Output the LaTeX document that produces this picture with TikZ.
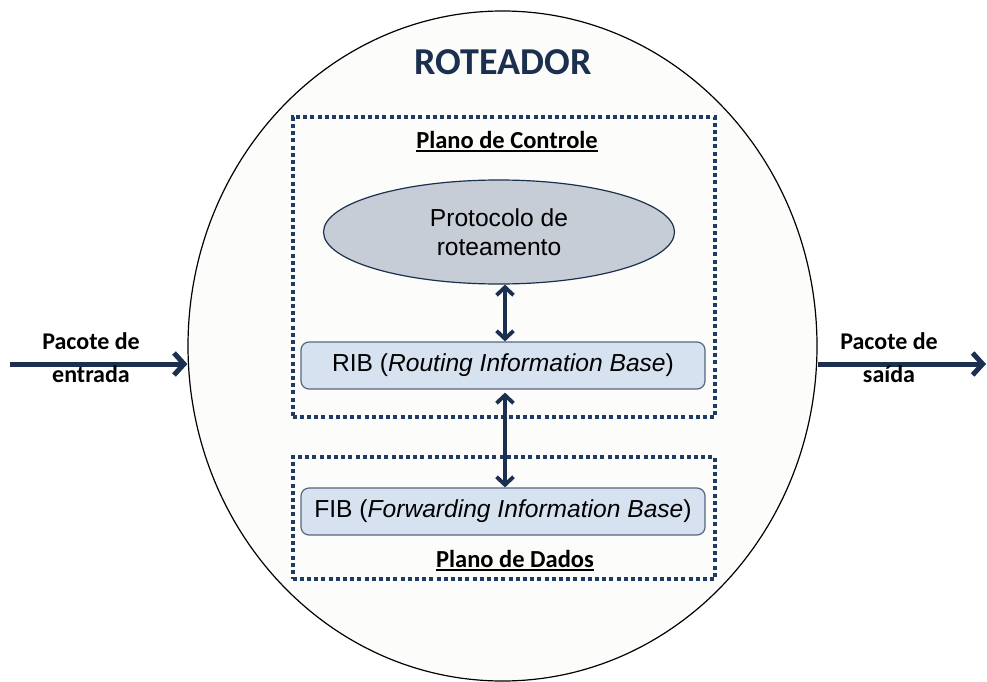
\documentclass[tikz,border=0pt]{standalone}
\usepackage{fontspec}
\setmainfont{Carlito}
\newfontfamily\arialfont{Liberation Sans}
\usetikzlibrary{arrows.meta,shapes.geometric}
\definecolor{navy}{HTML}{1B2F4F}
\definecolor{dotnavy}{HTML}{1F3A64}
\definecolor{shellfill}{HTML}{FCFCFA}
\definecolor{protofill}{HTML}{C6CDD6}
\definecolor{basefill}{HTML}{D7E2F1}
\definecolor{baseedge}{HTML}{56677E}
% heavy underline for the plane titles
\newcommand\thickul[1]{\setbox0\hbox{#1}\rlap{\rule[-3.5pt]{\wd0}{1.8pt}}\box0}
\begin{document}
\begin{tikzpicture}[x=1pt,y=-1pt,
  plane/.style={draw=dotnavy, line width=4pt, dash pattern=on 4pt off 3.2pt, inner sep=0pt},
  tablebox/.style={draw=baseedge, line width=1.2pt, fill=basefill, rounded corners=8pt,
    minimum width=404pt, minimum height=47pt, inner sep=0pt,
    font=\arialfont\fontsize{24.6}{29}\selectfont},
  label/.style={font=\bfseries\fontsize{24}{33}\selectfont, align=center, text=black},
  link/.style={navy, line width=3.8pt,
    {Straight Barb[length=8pt,width=17pt]}-{Straight Barb[length=8pt,width=17pt]}},
  flow/.style={navy, line width=5pt, -{Straight Barb[length=10pt,width=22pt]}}
]
\useasboundingbox (0,0) rectangle (987,682);
\fill[white] (0,0) rectangle (987,682);

% router outline
\node[ellipse, draw=black, line width=1.2pt, fill=shellfill, minimum width=629pt,
  minimum height=670pt, inner sep=0pt] (router) at (502.5,346) {};
\node[anchor=base, font=\bfseries\fontsize{38}{44}\selectfont, text=navy] (title)
  at (503,75) {ROTEADOR};

% control and data planes
\node[plane, minimum width=422.5pt, minimum height=300pt] (ctrl) at (503.75,267) {};
\node[plane, minimum width=422.5pt, minimum height=122pt] (data) at (503.75,518) {};
\node[label, anchor=base, font=\bfseries\fontsize{24.5}{33}\selectfont] (ctrltitle)
  at (507,148) {\thickul{Plano de Controle}};
\node[label, anchor=base, font=\bfseries\fontsize{24.5}{33}\selectfont] (datatitle)
  at (515,567) {\thickul{Plano de Dados}};

% routing protocol and tables
\node[ellipse, draw=navy, line width=1.2pt, fill=protofill, minimum width=351pt,
  minimum height=104pt, inner sep=0pt, align=center,
  font=\arialfont\fontsize{24.6}{29}\selectfont] (proto) at (499,232)
  {Protocolo de\\roteamento};
\node[tablebox] (rib) at (503,365.5) {RIB (\textit{Routing Information Base})};
\node[tablebox] (fib) at (503,511.5) {FIB (\textit{Forwarding Information Base})};

\coordinate (spine) at (505,0);
\draw[link] (proto.south -| spine) -- (rib.north -| spine);
\draw[link, shorten <=3pt] (rib.south -| spine) -- (fib.north -| spine);

% packets in and out
\coordinate (inlet) at (10,364);
\coordinate (outlet) at (986,364);
\draw[flow] (inlet) -- (router.west |- inlet);
\draw[flow] (router.east |- outlet) -- (outlet);
\node[label] (inlabel) at (91,358) {Pacote de\\entrada};
\node[label] (outlabel) at (889,358) {Pacote de\\saída};
\end{tikzpicture}
\end{document}
